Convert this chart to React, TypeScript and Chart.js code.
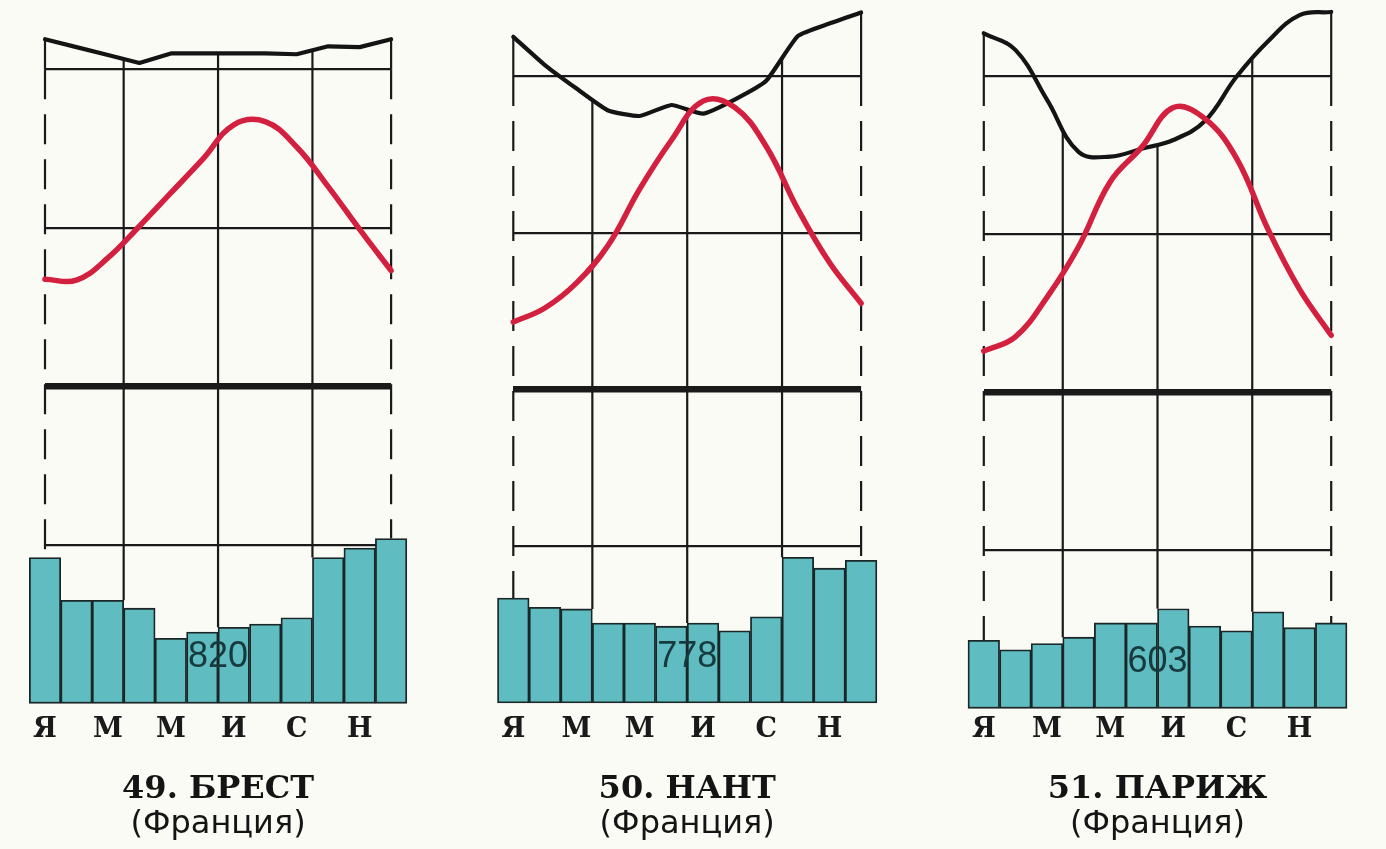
import React, { useEffect, useRef } from "react";
import { Chart, registerables } from "chart.js";

Chart.register(...registerables);

// ---------- data ----------
const monthCenters = [0.5, 1.5, 2.5, 3.5, 4.5, 5.5, 6.5, 7.5, 8.5, 9.5, 10.5, 11.5];
const labelPositions = [0.5, 2.5, 4.5, 6.5, 8.5, 10.5];
const monthLetters = ["Я", "М", "М", "И", "С", "Н"];
const frameLinePositions = [0.5, 3, 6, 9, 11.5];
const temperatureGridValues = [-10, 0, 10, 20];
const stationTitles = ["49. БРЕСТ", "50. НАНТ", "51. ПАРИЖ"];
const stationCountry = "(Франция)";
const annualPrecipitation = [820, 778, 603];

// temperature, °C
const brestTemperature = [6.75, 6.7, 8.1, 10.1, 12.2, 14.3, 16.5, 16.7, 15.1, 12.6, 9.9, 7.3];
const nantesTemperature = [4.3, 5.2, 6.8, 9.2, 12.8, 15.9, 18.4, 18.0, 15.5, 11.5, 8.1, 5.5];
const parisTemperature = [2.6, 3.5, 6.0, 9.2, 13.3, 15.5, 18.0, 17.3, 14.8, 10.3, 6.5, 3.6];

// relative humidity, %
const brestHumidity = [83.8, 82.8, 81.8, 80.8, 82.0, 82.0, 82.0, 82.0, 81.9, 82.9, 82.8, 83.8];
const nantesHumidity = [85.0, 81.4, 78.4, 75.6, 74.9, 76.3, 75.2, 77.0, 79.4, 85.1, 86.7, 88.1];
const parisHumidity = [85.4, 83.3, 77.0, 70.4, 69.8, 70.8, 71.9, 74.3, 79.9, 84.4, 87.7, 88.1];

// precipitation, mm
const brestPrecipitation = [92, 65, 65, 60, 41, 45, 48, 50, 54, 92, 98, 104];
const nantesPrecipitation = [67, 61, 60, 51, 51, 49, 51, 46, 55, 93, 86, 91];
const parisPrecipitation = [43, 37, 41, 45, 54, 54, 63, 52, 49, 61, 51, 54];

// scale ranges (temperature axis; humidity and precipitation axes derived)
const temperatureMin = -20;
const temperatureMax = 24;

// ---------- styles / geometry ----------
const CANVAS_H = 849;
const BAR_FILL = "#5fbcc1";
const BAR_EDGE = "#1b2626";
const INK = "#1a1a1a";
const RED = "#d3203f";
const LETTER_SIZE = 27;

const panels = [
  {
    title: stationTitles[0], total: annualPrecipitation[0],
    temperature: brestTemperature, humidity: brestHumidity, precipitation: brestPrecipitation,
    canvasLeft: 0, canvasWidth: 460, areaLeft: 45.0, areaRight: 391.1, line20: 69.3, base: 703.3,
    humidityTension: 0,
  },
  {
    title: stationTitles[1], total: annualPrecipitation[1],
    temperature: nantesTemperature, humidity: nantesHumidity, precipitation: nantesPrecipitation,
    canvasLeft: 460, canvasWidth: 465, areaLeft: 513.3, areaRight: 861.1, line20: 76, base: 703,
    humidityTension: 0.15,
  },
  {
    title: stationTitles[2], total: annualPrecipitation[2],
    temperature: parisTemperature, humidity: parisHumidity, precipitation: parisPrecipitation,
    canvasLeft: 925, canvasWidth: 461, areaLeft: 983.8, areaRight: 1331.2, line20: 76, base: 708.3,
    humidityTension: 0.4,
  },
];

// ---------- plugins ----------
const frameLinesPlugin = {
  id: "frameLines",
  beforeDatasetsDraw(chart: any) {
    const { ctx, scales } = chart;
    const x = scales.x;
    const yT = scales.yT;
    const barMeta = chart.getDatasetMeta(0);
    const humMeta = chart.getDatasetMeta(1);
    const bars = barMeta.data;
    const pts = humMeta.data;
    const line20 = yT.getPixelForValue(20);
    ctx.save();
    ctx.strokeStyle = INK;
    ctx.lineWidth = 2.2;
    frameLinePositions.forEach((b, k) => {
      const px = x.getPixelForValue(b);
      const idx: number[] = [];
      for (let i = 0; i < bars.length; i++) {
        if (Math.abs(monthCenters[i] - b) <= 0.5 + 1e-6) idx.push(i);
      }
      let top: number;
      if (idx.length === 1) {
        top = pts[idx[0]].y;
      } else {
        let ip: any = null;
        try {
          ip = humMeta.dataset.interpolate({ x: px }, "x");
        } catch (e) {
          ip = null;
        }
        if (Array.isArray(ip)) ip = ip[0];
        top = ip && isFinite(ip.y) ? ip.y : (pts[idx[0]].y + pts[idx[1]].y) / 2;
      }
      let bottom = Infinity;
      idx.forEach((i) => {
        bottom = Math.min(bottom, bars[i].y);
      });
      const isEdge = k === 0 || k === frameLinePositions.length - 1;
      if (!isEdge) {
        ctx.setLineDash([]);
        ctx.beginPath();
        ctx.moveTo(px, top);
        ctx.lineTo(px, bottom);
        ctx.stroke();
      } else {
        const split = Math.max(top, Math.min(line20, bottom));
        if (split > top) {
          ctx.setLineDash([]);
          ctx.beginPath();
          ctx.moveTo(px, top);
          ctx.lineTo(px, split);
          ctx.stroke();
        }
        ctx.setLineDash([30, 15]);
        ctx.lineDashOffset = 0;
        ctx.beginPath();
        ctx.moveTo(px, split);
        ctx.lineTo(px, bottom);
        ctx.stroke();
        ctx.setLineDash([]);
      }
    });
    ctx.restore();
  },
};

const annualTotalPlugin = {
  id: "annualTotal",
  afterDatasetsDraw(chart: any, _args: any, opts: any) {
    const { ctx, scales } = chart;
    const x = scales.x.getPixelForValue(6);
    const y = scales.yP.getPixelForValue(0) - 46;
    ctx.save();
    ctx.font = '36px "Liberation Sans", Arial, sans-serif';
    ctx.fillStyle = "#173a3e";
    ctx.textAlign = "center";
    ctx.textBaseline = "middle";
    ctx.fillText(String(opts.text), x, y);
    ctx.restore();
  },
};

// ---------- chart component ----------
function StationChart({ p }: { p: (typeof panels)[number] }) {
  const ref = useRef<HTMLCanvasElement | null>(null);

  useEffect(() => {
    if (!ref.current) return;
    const pxPerDeg = (p.base - p.line20) / (20 - temperatureMin);
    const padTop = p.line20 - (temperatureMax - 20) * pxPerDeg;
    const tickPad = 730 - LETTER_SIZE / 2 - p.base;
    const axisBottom = p.base + LETTER_SIZE + 2 * tickPad;
    const titlePad = 774 - axisBottom;

    const chart = new Chart(ref.current, {
      type: "bar",
      data: {
        datasets: [
          {
            type: "bar",
            label: "Осадки",
            data: p.precipitation.map((v, i) => ({ x: monthCenters[i], y: v })),
            yAxisID: "yP",
            backgroundColor: BAR_FILL,
            borderColor: BAR_EDGE,
            borderWidth: 1.8,
            borderSkipped: false,
            barPercentage: 1,
            categoryPercentage: 1,
            clip: false,
            order: 3,
          } as any,
          {
            type: "line",
            label: "Относительная влажность",
            data: p.humidity.map((v, i) => ({ x: monthCenters[i], y: v })),
            yAxisID: "yH",
            borderColor: "#141414",
            borderWidth: 4.2,
            pointRadius: 0,
            tension: p.humidityTension,
            borderJoinStyle: "round",
            borderCapStyle: "round",
            clip: false,
            order: 2,
          } as any,
          {
            type: "line",
            label: "Температура",
            data: p.temperature.map((v, i) => ({ x: monthCenters[i], y: v })),
            yAxisID: "yT",
            borderColor: RED,
            borderWidth: 5.5,
            pointRadius: 0,
            tension: 0.4,
            borderJoinStyle: "round",
            borderCapStyle: "round",
            clip: false,
            order: 1,
          } as any,
        ],
      },
      options: {
        animation: false,
        responsive: false,
        events: [],
        layout: {
          padding: {
            left: p.areaLeft - p.canvasLeft,
            right: p.canvasLeft + p.canvasWidth - p.areaRight,
            top: padTop,
            bottom: 8,
          },
        },
        scales: {
          x: {
            type: "linear",
            min: monthCenters[0],
            max: monthCenters[monthCenters.length - 1],
            offset: false,
            grid: { display: false, drawTicks: false },
            border: { display: false },
            afterBuildTicks: (axis: any) => {
              axis.ticks = labelPositions.map((v) => ({ value: v }));
            },
            ticks: {
              autoSkip: false,
              maxRotation: 0,
              minRotation: 0,
              padding: tickPad,
              color: INK,
              font: { family: '"DejaVu Serif", serif', weight: "bold", size: LETTER_SIZE, lineHeight: 1 },
              callback: (_v: any, i: number) => monthLetters[i],
            },
          },
          yT: {
            type: "linear",
            position: "left",
            min: temperatureMin,
            max: temperatureMax,
            afterBuildTicks: (axis: any) => {
              axis.ticks = temperatureGridValues.map((v) => ({ value: v }));
            },
            ticks: { display: false },
            border: { display: false },
            grid: {
              drawTicks: false,
              color: INK,
              lineWidth: (c: any) => (c.tick && c.tick.value === 0 ? 6.5 : 2.2),
            },
          },
          yH: {
            type: "linear",
            display: false,
            min: 40 + 2 * temperatureMin,
            max: 40 + 2 * temperatureMax,
            grid: { drawTicks: false },
          },
          yP: {
            type: "linear",
            display: false,
            min: 0,
            max: (temperatureMax - temperatureMin) * 10,
            grid: { drawTicks: false },
          },
        },
        plugins: {
          legend: { display: false },
          tooltip: { enabled: false },
          title: {
            display: true,
            text: p.title,
            position: "bottom",
            weight: 100,
            color: "#141414",
            font: { family: '"DejaVu Serif", serif', weight: "bold", size: 32, lineHeight: 1 },
            padding: { top: titlePad, bottom: 0 },
          } as any,
          subtitle: {
            display: true,
            text: stationCountry,
            position: "bottom",
            weight: 200,
            color: "#141414",
            font: { family: '"DejaVu Sans", sans-serif', weight: "normal", size: 32, lineHeight: 1 },
            padding: { top: 3, bottom: 0 },
          } as any,
          annualTotal: { text: p.total },
        } as any,
      },
      plugins: [frameLinesPlugin, annualTotalPlugin],
    } as any);

    return () => chart.destroy();
  }, [p]);

  return (
    <canvas
      ref={ref}
      width={p.canvasWidth}
      height={CANVAS_H}
      style={{ position: "absolute", left: p.canvasLeft, top: 0, width: p.canvasWidth, height: CANVAS_H, display: "block" }}
    />
  );
}

export default function App() {
  return (
    <div
      style={{
        position: "absolute",
        left: 0,
        top: 0,
        width: 1386,
        height: CANVAS_H,
        background: "#fbfbf6",
        overflow: "hidden",
      }}
    >
      {panels.map((p, i) => (
        <StationChart key={i} p={p} />
      ))}
    </div>
  );
}
